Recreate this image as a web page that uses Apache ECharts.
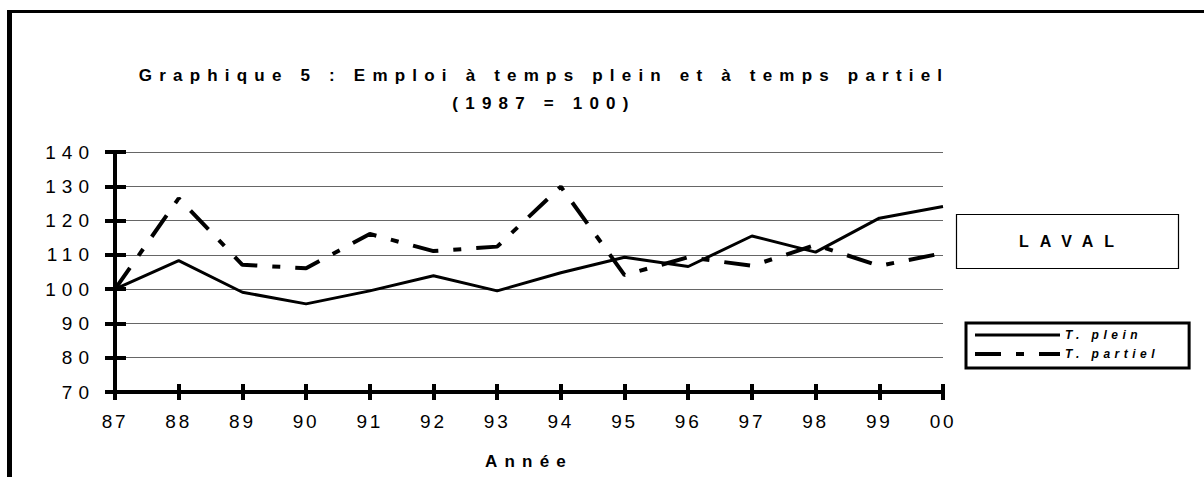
<!DOCTYPE html>
<html>
<head>
<meta charset="utf-8">
<script src="https://cdn.jsdelivr.net/npm/echarts@6/dist/echarts.min.js"></script>
<style>
  body { margin: 0; background: #fff; }
  #chart { width: 1204px; height: 477px; }
  /* espacement des lettres, comme dans le graphique Excel d'origine */
  #chart text[style*="Helvetica"] { letter-spacing: 7.2px; }
  #chart text[style*="Tahoma"] { letter-spacing: 6px; }
  #chart text[style*="Verdana"] { letter-spacing: 2.8px; }
  #chart text[style*="Impact"] { letter-spacing: 11px; }
  #chart text[style*="Arial"] { letter-spacing: 4.5px; }
</style>
</head>
<body>
<div id="chart"></div>
<script>
const years = ['87', '88', '89', '90', '91', '92', '93', '94', '95', '96', '97', '98', '99', '00'];
const tempsPlein = [100, 108.3, 99.1, 95.7, 99.5, 103.9, 99.5, 104.8, 109.3, 106.6, 115.5, 110.8, 120.7, 124.1];
const tempsPartiel = [100, 126.5, 107.1, 106.1, 116.1, 111.1, 112.4, 129.9, 104.1, 109.3, 106.8, 112.9, 106.8, 110.5];
const yMin = 70, yMax = 140, yStep = 10;

const chart = echarts.init(document.getElementById('chart'), null, { renderer: 'svg' });

const titleFont = "'Liberation Sans', Helvetica";
const dashPartiel = [26, 15, 8, 15];

chart.setOption({
  animation: false,
  title: {
    text: 'Graphique 5 : Emploi à temps plein et à temps partiel\n(1987 = 100)',
    left: 544,
    top: 61,
    padding: 0,
    textAlign: 'center',
    textStyle: { fontFamily: titleFont, fontWeight: 'bold', fontSize: 17, lineHeight: 28, color: '#000' }
  },
  grid: { left: 115, right: 261, top: 152, bottom: 85 },
  legend: {
    orient: 'vertical',
    left: 966,
    top: 323,
    padding: [6, 75, 8, 7],
    borderColor: '#000',
    borderWidth: 3,
    itemWidth: 85,
    itemHeight: 14,
    itemGap: 7,
    itemStyle: { color: 'rgba(0,0,0,0)', borderWidth: 0 },
    textStyle: { fontFamily: "'Liberation Sans', Arial", fontStyle: 'italic', fontWeight: 'bold', fontSize: 12, color: '#000' },
    data: [
      { name: 'T. plein', lineStyle: { color: '#000', width: 3 } },
      { name: 'T. partiel', lineStyle: { color: '#000', width: 4, type: dashPartiel } }
    ]
  },
  xAxis: [
    {
      type: 'category',
      data: years,
      boundaryGap: false,
      name: 'Année',
      nameLocation: 'middle',
      nameGap: 61,
      nameTextStyle: { fontFamily: titleFont, fontWeight: 'bold', fontSize: 17, color: '#000' },
      axisLine: { onZero: false, lineStyle: { color: '#000', width: 4 } },
      axisTick: { length: 8, lineStyle: { color: '#000', width: 4 } },
      axisLabel: { margin: 20, fontFamily: "'Liberation Sans', Verdana", fontSize: 19, color: '#000' }
    },
    {
      // petites marques vers l'intérieur (les marques traversent l'axe)
      type: 'category',
      data: years,
      boundaryGap: false,
      position: 'bottom',
      axisLine: { show: false, onZero: false },
      axisTick: { inside: true, length: 8, lineStyle: { color: '#000', width: 4 } },
      axisLabel: { show: false }
    }
  ],
  yAxis: [
    {
      type: 'value',
      min: yMin, max: yMax, interval: yStep,
      axisLine: { show: true, lineStyle: { color: '#000', width: 4 } },
      axisTick: { show: true, length: 10, lineStyle: { color: '#000', width: 4 } },
      axisLabel: { margin: 20, fontFamily: "'Liberation Sans', Tahoma", fontSize: 19, color: '#000' },
      splitLine: { lineStyle: { color: '#666', width: 1 } }
    },
    {
      type: 'value',
      min: yMin, max: yMax, interval: yStep,
      position: 'left',
      axisLine: { show: false },
      axisTick: { show: true, inside: true, length: 11, lineStyle: { color: '#000', width: 4 } },
      axisLabel: { show: false },
      splitLine: { show: false }
    }
  ],
  series: [
    {
      name: 'T. plein',
      type: 'line',
      data: tempsPlein,
      symbol: 'none',
      itemStyle: { color: '#000' },
      lineStyle: { color: '#000', width: 3 }
    },
    {
      name: 'T. partiel',
      type: 'line',
      data: tempsPartiel,
      symbol: 'none',
      itemStyle: { color: '#000' },
      lineStyle: { color: '#000', width: 4, type: dashPartiel }
    }
  ],
  graphic: [
    // cadre du graphique
    { type: 'rect', shape: { x: 7, y: 10, width: 1197, height: 3 }, style: { fill: '#000' } },
    { type: 'rect', shape: { x: 7, y: 10, width: 5, height: 467 }, style: { fill: '#000' } },
    // étiquette LAVAL
    { type: 'rect', shape: { x: 956.5, y: 214.5, width: 222, height: 54 }, style: { fill: '#fff', stroke: '#000', lineWidth: 1.2 } },
    {
      type: 'text', x: 1072, y: 241,
      style: { text: 'LAVAL', fontFamily: "'Liberation Sans', Impact", fontWeight: 'bold', fontSize: 16, fill: '#000', textAlign: 'center', textVerticalAlign: 'middle' }
    }
  ]
});
</script>
</body>
</html>
